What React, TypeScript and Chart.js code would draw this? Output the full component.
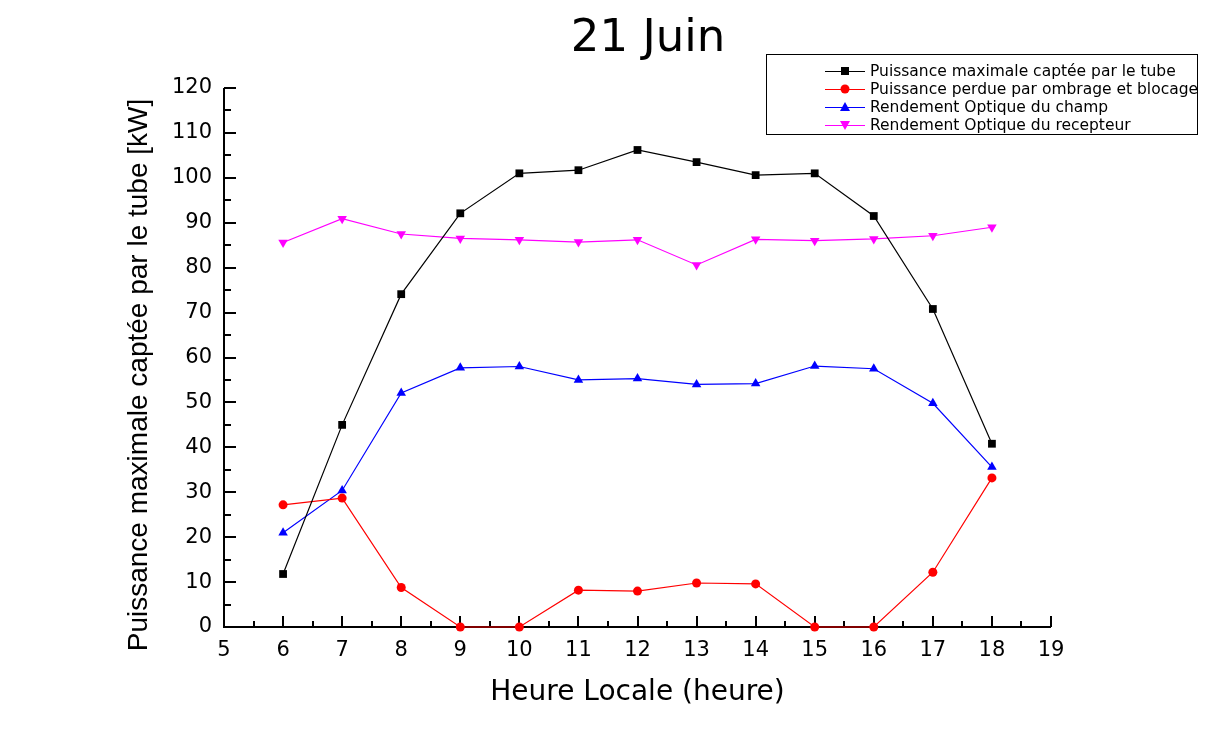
import React, { useEffect, useRef } from "react";
import { Chart, registerables } from "chart.js";

Chart.register(...registerables);

const hours = [6, 7, 8, 9, 10, 11, 12, 13, 14, 15, 16, 17, 18];
const puissanceMax = [11.8, 45.0, 74.1, 92.1, 101.0, 101.7, 106.2, 103.5, 100.6, 101.0, 91.5, 70.8, 40.8];
const puissancePerdue = [27.2, 28.7, 8.8, 0, 0, 8.2, 8.0, 9.8, 9.6, 0, 0, 12.2, 33.2];
const rendementChamp = [21.0, 30.4, 52.1, 57.7, 58.0, 55.0, 55.3, 54.0, 54.2, 58.1, 57.5, 49.8, 35.6];
const rendementRecepteur = [85.6, 90.9, 87.5, 86.5, 86.2, 85.7, 86.2, 80.6, 86.3, 86.0, 86.4, 87.1, 89.0];

const seriesLabels = [
  "Puissance maximale captée par le tube",
  "Puissance perdue par ombrage et blocage",
  "Rendement Optique du champ",
  "Rendement Optique du recepteur",
];
const seriesColors = ["#000000", "#ff0000", "#0000ff", "#ff00ff"];
const seriesStyles = ["rect", "circle", "triangle", "triangleDown"];

const titleText = "21 Juin";
const xTitle = "Heure Locale (heure)";
const yTitle = "Puissance maximale captée par le tube [kW]";
const xMin = 5;
const xMax = 19;
const yMin = 0;
const yMax = 120;

function drawMarker(ctx: CanvasRenderingContext2D, style: string, x: number, y: number, color: string) {
  ctx.save();
  ctx.fillStyle = color;
  ctx.beginPath();
  if (style === "rect") {
    ctx.rect(x - 4, y - 4, 8, 8);
  } else if (style === "circle") {
    ctx.arc(x, y, 4.5, 0, Math.PI * 2);
  } else if (style === "triangle") {
    ctx.moveTo(x, y - 5);
    ctx.lineTo(x + 5, y + 4);
    ctx.lineTo(x - 5, y + 4);
    ctx.closePath();
  } else {
    ctx.moveTo(x, y + 5);
    ctx.lineTo(x + 5, y - 4);
    ctx.lineTo(x - 5, y - 4);
    ctx.closePath();
  }
  ctx.fill();
  ctx.restore();
}

const axesPlugin = {
  id: "originAxes",
  beforeDatasetsDraw(chart: any) {
    const { ctx, chartArea, scales } = chart;
    const xs = scales.x;
    const ys = scales.y;
    ctx.save();
    ctx.strokeStyle = "#000";
    ctx.lineWidth = 2;
    ctx.beginPath();
    ctx.moveTo(chartArea.left, chartArea.top);
    ctx.lineTo(chartArea.left, chartArea.bottom);
    ctx.lineTo(chartArea.right, chartArea.bottom);
    ctx.stroke();
    for (let v = xMin; v <= xMax + 1e-9; v += 0.5) {
      const px = Math.round(xs.getPixelForValue(v));
      const major = Math.abs(v - Math.round(v)) < 1e-6;
      const len = major ? 11 : 6;
      ctx.beginPath();
      ctx.moveTo(px, chartArea.bottom);
      ctx.lineTo(px, chartArea.bottom - len);
      ctx.stroke();
    }
    for (let v = yMin; v <= yMax + 1e-9; v += 5) {
      const py = Math.round(ys.getPixelForValue(v));
      const major = v % 10 === 0;
      const len = major ? 12 : 7;
      ctx.beginPath();
      ctx.moveTo(chartArea.left, py);
      ctx.lineTo(chartArea.left + len, py);
      ctx.stroke();
    }
    ctx.restore();
  },
  afterDraw(chart: any) {
    const { ctx, chartArea } = chart;
    ctx.save();
    ctx.fillStyle = "#000";
    ctx.font = "45px 'DejaVu Sans'";
    ctx.textAlign = "center";
    ctx.textBaseline = "alphabetic";
    ctx.fillText(titleText, 648, 51);
    ctx.font = "28px 'DejaVu Sans'";
    ctx.fillText(xTitle, (chartArea.left + chartArea.right) / 2, 700);
    ctx.save();
    ctx.translate(147, 375);
    ctx.rotate(-Math.PI / 2);
    ctx.font = "28px 'Liberation Sans'";
    ctx.textAlign = "center";
    ctx.fillText(yTitle, 0, 0);
    ctx.restore();
    const bx = 766, by = 54, bw = 431, bh = 80;
    ctx.fillStyle = "#fff";
    ctx.fillRect(bx, by, bw, bh);
    ctx.strokeStyle = "#000";
    ctx.lineWidth = 1;
    ctx.strokeRect(bx + 0.5, by + 0.5, bw, bh);
    ctx.font = "15.5px 'DejaVu Sans'";
    ctx.textAlign = "left";
    ctx.textBaseline = "middle";
    const rows = [71, 89, 107, 125];
    seriesLabels.forEach((lab, i) => {
      const y = rows[i];
      ctx.strokeStyle = seriesColors[i];
      ctx.lineWidth = 1.2;
      ctx.beginPath();
      ctx.moveTo(825, y + 0.5);
      ctx.lineTo(865, y + 0.5);
      ctx.stroke();
      drawMarker(ctx, seriesStyles[i], 845, y, seriesColors[i]);
      ctx.fillStyle = "#000";
      ctx.fillText(lab, 870, y + 1);
    });
    ctx.restore();
  },
};

export default function App() {
  const ref = useRef<HTMLCanvasElement | null>(null);
  useEffect(() => {
    if (!ref.current) return;
    const mk = (vals: number[]) => hours.map((h, i) => ({ x: h, y: vals[i] }));
    const pointStyles: any[] = ["rect", "circle", "triangle", "triangle"];
    const rotations = [0, 0, 0, 180];
    const radii = [5.5, 4.5, 5.5, 5.5];
    const all = [puissanceMax, puissancePerdue, rendementChamp, rendementRecepteur];
    const chart = new Chart(ref.current, {
      type: "line",
      data: {
        datasets: all.map((vals, i) => ({
          label: seriesLabels[i],
          data: mk(vals),
          borderColor: seriesColors[i],
          backgroundColor: seriesColors[i],
          borderWidth: 1.2,
          pointStyle: pointStyles[i],
          rotation: rotations[i],
          pointRadius: radii[i],
          pointBorderWidth: 0,
          pointBackgroundColor: seriesColors[i],
          pointBorderColor: seriesColors[i],
          tension: 0,
          clip: false as any,
        })),
      },
      options: {
        responsive: false,
        animation: false,
        devicePixelRatio: 1,
        layout: { padding: { left: 0, top: 88, right: 159, bottom: 0 } },
        plugins: { legend: { display: false }, tooltip: { enabled: false }, title: { display: false } },
        scales: {
          x: {
            type: "linear",
            min: xMin,
            max: xMax,
            grid: { display: false, drawTicks: false },
            border: { display: false },
            ticks: {
              stepSize: 1,
              color: "#000",
              padding: 11,
              font: { family: "'DejaVu Sans'", size: 21 },
              maxRotation: 0,
              autoSkip: false,
            },
            afterFit: (s: any) => {
              s.height = 119;
            },
          },
          y: {
            type: "linear",
            min: yMin,
            max: yMax,
            grid: { display: false, drawTicks: false },
            border: { display: false },
            ticks: {
              stepSize: 10,
              color: "#000",
              padding: 12,
              font: { family: "'DejaVu Sans'", size: 21 },
            },
            afterFit: (s: any) => {
              s.width = 224;
            },
          },
        },
      },
      plugins: [axesPlugin],
    });
    return () => chart.destroy();
  }, []);
  return (
    <div style={{ position: "absolute", left: 0, top: 0, width: 1210, height: 746, background: "#fff" }}>
      <canvas ref={ref} width={1210} height={746} style={{ display: "block", width: 1210, height: 746 }} />
    </div>
  );
}
